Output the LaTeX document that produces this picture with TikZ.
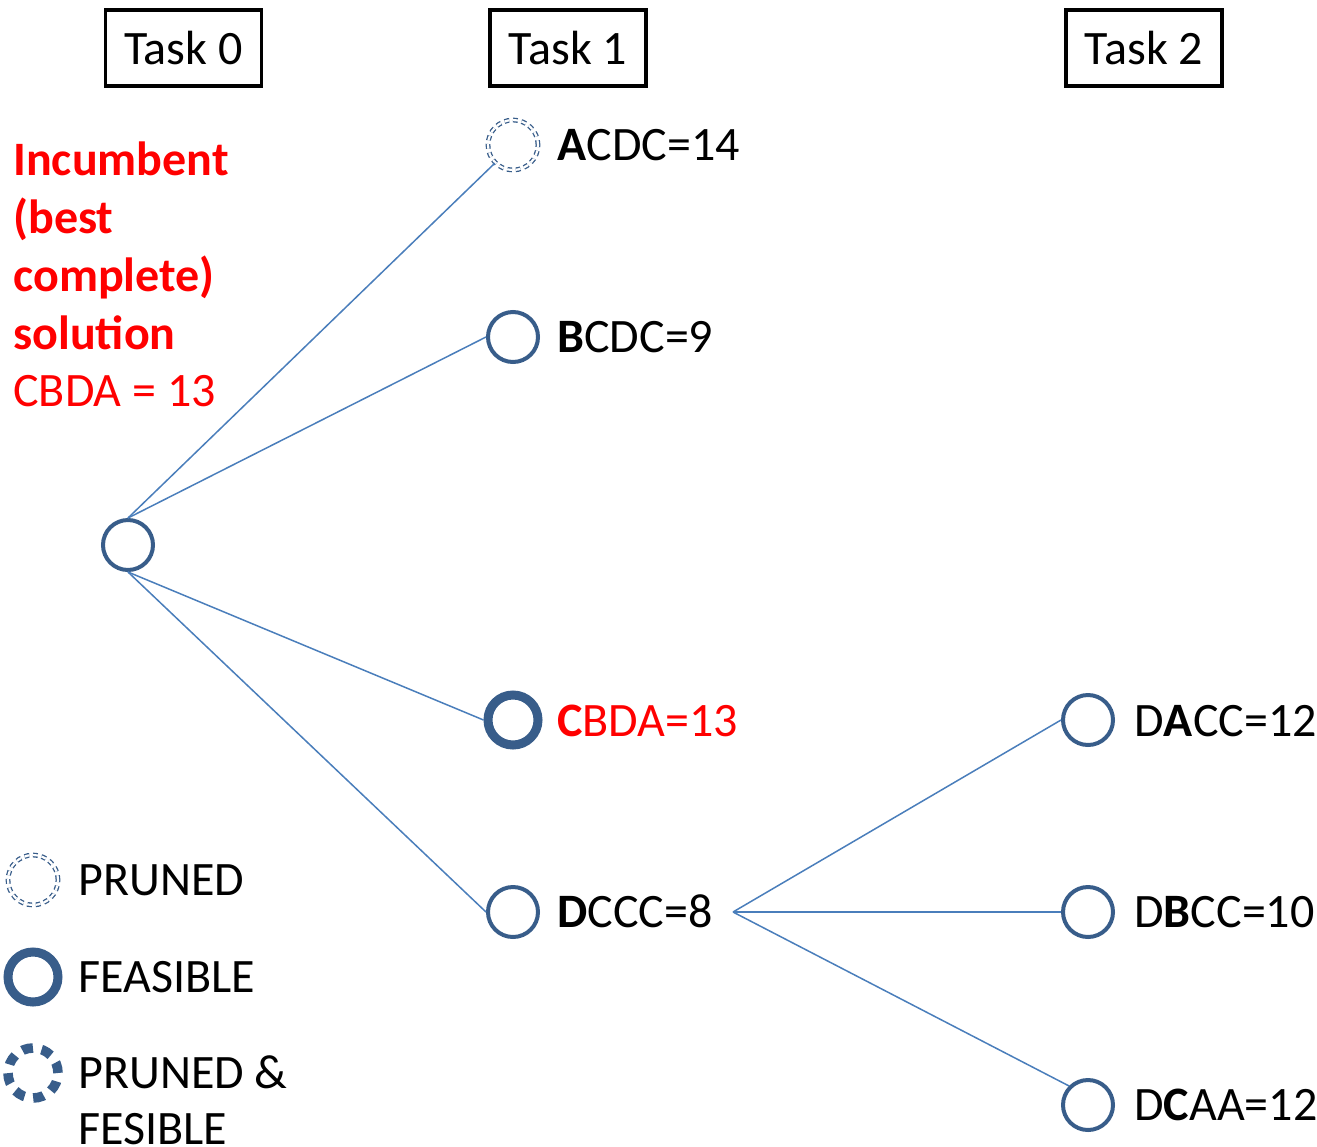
\documentclass[tikz,border=0pt]{standalone}
\usepackage{fontspec}
\setmainfont{Carlito}
\definecolor{ringblue}{RGB}{56,93,138}
\definecolor{edgeblue}{RGB}{74,126,187}
\definecolor{hot}{RGB}{255,0,0}
\begin{document}
\begin{tikzpicture}[x=0.5pt,y=-0.5pt,
  every node/.style={font=\fontsize{24}{29}\selectfont},
  taskbox/.style={draw=black,line width=1.6pt,minimum width=78pt,minimum height=38pt,inner sep=0pt},
  ring/.style={circle,draw=ringblue,line width=2pt,minimum size=25pt,inner sep=0pt},
  feasible/.style={ring,line width=4.5pt},
  pruned/.style={ring,line width=0.65pt,double=white,double distance=1.1pt,dash pattern=on 2.4pt off 1.9pt},
  prunedfeasible/.style={ring,line width=4.8pt,dash pattern=on 5.4pt off 4.42pt},
  edge/.style={draw=edgeblue,line width=0.75pt},
  label/.style={anchor=base west,inner sep=0pt},
  hotlabel/.style={label,text=hot}]
\useasboundingbox (0,0) rectangle (1317,1146);

% task headers
\node[taskbox] (t0) at (183.5,48) {Task 0};
\node[taskbox] (t1) at (568,48) {Task 1};
\node[taskbox] (t2) at (1144,48) {Task 2};

% incumbent note
\node[hotlabel] (inc1) at (13,175) {\textbf{Incumbent}};
\node[hotlabel] (inc2) at (13,233) {\textbf{(best}};
\node[hotlabel] (inc3) at (13,291) {\textbf{complete)}};
\node[hotlabel] (inc4) at (13,349) {\textbf{solution}};
\node[hotlabel] (inc5) at (13,406) {CBDA = 13};

% tree nodes
\node[ring] (root) at (128,545) {};
\node[pruned] (acdc) at (513,145) {};
\node[ring] (bcdc) at (513,337) {};
\node[feasible] (cbda) at (513,720) {};
\node[ring] (dccc) at (513,912) {};
\node[ring] (dacc) at (1088,720) {};
\node[ring] (dbcc) at (1088,912) {};
\node[ring] (dcaa) at (1088,1105) {};

% node labels
\node[label] (lacdc) at (557,160) {\textbf{A}CDC=14};
\node[label] (lbcdc) at (557,352) {\textbf{B}CDC=9};
\node[hotlabel] (lcbda) at (557,736) {\textbf{C}BDA=13};
\node[label] (ldccc) at (557,927) {\textbf{D}CCC=8};
\node[label] (ldacc) at (1134,736) {D\textbf{A}CC=12};
\node[label] (ldbcc) at (1134,927) {D\textbf{B}CC=10};
\node[label] (ldcaa) at (1134,1120) {D\textbf{C}AA=12};

% branches
\coordinate (fork) at (733,912);
\draw[edge] (root.north) -- (acdc.south west);
\draw[edge] (root.north) -- (bcdc.west);
\draw[edge] (root.south) -- (cbda.west);
\draw[edge] (root.south) -- (dccc.west);
\draw[edge] (fork) -- (dacc.west);
\draw[edge] (fork) -- (dbcc.west);
\draw[edge] (fork) -- (dcaa.north west);

% legend
\node[pruned] (kp) at (33,880) {};
\node[feasible] (kf) at (33,977) {};
\node[prunedfeasible] (kpf) at (33,1073) {};
\node[label] (lkp) at (78,895) {PRUNED};
\node[label] (lkf) at (78,992) {FEASIBLE};
\node[label] (lkpf1) at (78,1088) {PRUNED \&};
\node[label] (lkpf2) at (78,1144) {FESIBLE};
\end{tikzpicture}
\end{document}
